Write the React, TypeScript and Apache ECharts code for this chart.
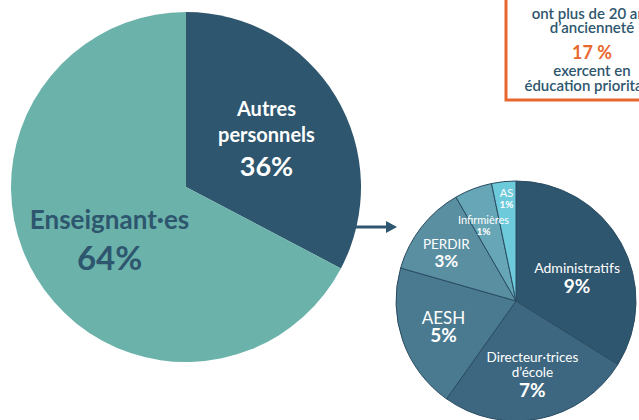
import React, { useEffect, useRef } from "react";
import * as echarts from "echarts";

const mainNames = ["Autres\npersonnels", "Enseignant·es"];
const mainShares = [32.7, 67.3];
const mainLabels = ["36%", "64%"];

// Breakdown of "Autres personnels"
const subNames = ["Administratifs", "Directeur·trices\nd’école", "AESH", "PERDIR", "Infirmières", "AS"];
const subShares = [8.81, 6.75, 5.1, 3.18, 1.32, 0.85];
const subLabels = ["9%", "7%", "5%", "3%", "1%", "1%"];

// Callout box text
const boxLines = ["ont plus de 20 ans", "d’ancienneté"];
const boxValue = "17 %";
const boxLines2 = ["exercent en", "éducation prioritaire"];

const DARK = "#2e566e";
const TEAL = "#6bb3aa";
const ORANGE = "#e8672e";
const FONT = "Lato, 'Noto Sans', sans-serif";

const mainColors = [DARK, TEAL];
const mainTextColors = ["#ffffff", DARK];
const mainNameSize = [20, 26];
const mainValSize = [27, 33];

const subColors = ["#2e566e", "#3d6780", "#4a7a90", "#5a8fa2", "#66a6b6", "#6ccadb"];
const subNameSize = [14, 13.5, 17, 13.5, 11, 11];
const subValSize = [19, 19, 19, 17, 10, 10];
const subNameLH = [16, 15, 16, 15, 11, 11];
const subValLH = [20, 20, 18, 18, 11, 11];
const subShift = [
  [6, 7],
  [4, 12],
  [-13, 5],
  [-20, -9],
  [-10, -17],
  [-3, -40],
];

export default function App() {
  const ref = useRef<HTMLDivElement>(null);
  useEffect(() => {
    if (!ref.current) return;
    const chart = echarts.init(ref.current, null, { renderer: "svg" });
    const boxText = (text: string, y: number, color: string, font: string) => ({
      type: "text",
      x: 592,
      y,
      style: { text, fill: color, font, align: "center", verticalAlign: "middle" },
    });
    chart.setOption({
      animation: false,
      textStyle: { fontFamily: FONT },
      series: [
        {
          type: "pie",
          center: [186, 187],
          radius: 175,
          startAngle: 90,
          clockwise: true,
          silent: true,
          labelLine: { show: false },
          data: mainNames.map((n, i) => ({
            name: n,
            value: mainShares[i],
            itemStyle: { color: mainColors[i] },
            label: {
              show: true,
              position: "inside",
              formatter: `{n|${n}}\n{v|${mainLabels[i]}}`,
              rich: {
                n: {
                  fontSize: mainNameSize[i],
                  fontWeight: "bold",
                  color: mainTextColors[i],
                  fontFamily: FONT,
                  lineHeight: i === 0 ? 26 : 34,
                  align: "center",
                },
                v: {
                  fontSize: mainValSize[i],
                  fontWeight: "bold",
                  color: mainTextColors[i],
                  fontFamily: FONT,
                  lineHeight: i === 0 ? 36 : 42,
                  align: "center",
                },
              },
            },
          })),
          labelLayout: (p: any) => (p.dataIndex === 0 ? { dx: 3, dy: -1 } : { dx: 1, dy: 6 }),
        },
        {
          type: "pie",
          center: [516, 301],
          radius: 120,
          startAngle: 90,
          clockwise: true,
          silent: true,
          labelLine: { show: false },
          itemStyle: { borderColor: "#2a4c62", borderWidth: 1 },
          data: subNames.map((n, i) => ({
            name: n,
            value: subShares[i],
            itemStyle: { color: subColors[i] },
            label: {
              show: true,
              position: "inside",
              formatter: `{n|${n}}\n{v|${subLabels[i]}}`,
              rich: {
                n: {
                  fontSize: subNameSize[i],
                  color: "#ffffff",
                  fontFamily: FONT,
                  lineHeight: subNameLH[i],
                  align: "center",
                },
                v: {
                  fontSize: subValSize[i],
                  fontWeight: "bold",
                  color: "#ffffff",
                  fontFamily: FONT,
                  lineHeight: subValLH[i],
                  align: "center",
                },
              },
            },
          })),
          labelLayout: (p: any) => ({ dx: subShift[p.dataIndex][0], dy: subShift[p.dataIndex][1] }),
        },
      ],
      graphic: [
        {
          type: "line",
          shape: { x1: 350, y1: 227, x2: 389, y2: 227 },
          style: { stroke: DARK, lineWidth: 3 },
          z: -1,
        },
        {
          type: "polygon",
          shape: { points: [[386, 221], [397, 227], [386, 233]] },
          style: { fill: DARK },
        },
        {
          type: "rect",
          shape: { x: 506, y: -20, width: 220, height: 120 },
          style: { fill: "#ffffff", stroke: ORANGE, lineWidth: 3 },
        },
        boxText(boxLines[0], 13, DARK, `600 15px ${FONT}`),
        boxText(boxLines[1], 27, DARK, `600 15px ${FONT}`),
        boxText(boxValue, 52, ORANGE, `bold 18px ${FONT}`),
        boxText(boxLines2[0], 70, DARK, `600 15px ${FONT}`),
        boxText(boxLines2[1], 85, DARK, `600 15px ${FONT}`),
      ],
    });
    return () => chart.dispose();
  }, []);
  return (
    <div
      ref={ref}
      style={{ position: "absolute", left: 0, top: 0, width: 639, height: 420, background: "#ffffff" }}
    />
  );
}
